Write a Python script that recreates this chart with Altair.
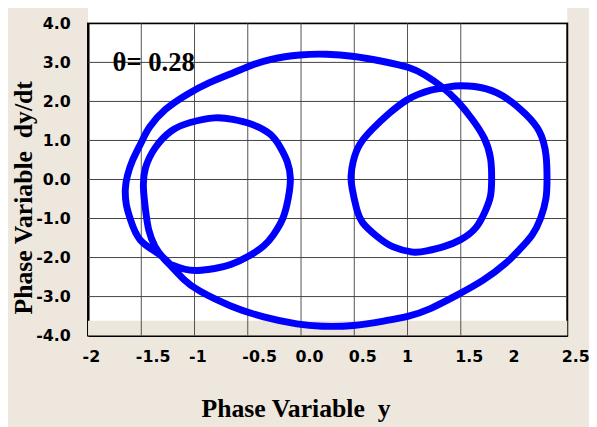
import altair as alt
import pandas as pd

# Phase trajectory (y, dy/dt), in drawing order
traj_y = [-1.23, -1.34, -1.51, -1.60, -1.64, -1.65, -1.63, -1.58, -1.50, -1.42,
          -1.27, -1.07, -0.86, -0.64, -0.47, -0.28, -0.01, 0.24, 0.50, 0.76,
          1.01, 1.16, 1.32, 1.47, 1.60, 1.72, 1.78, 1.79, 1.78, 1.73,
          1.64, 1.50, 1.34, 1.18, 1.05, 0.86, 0.71, 0.58, 0.52, 0.48,
          0.47, 0.49, 0.55, 0.67, 0.83, 0.99, 1.10, 1.22, 1.36, 1.51,
          1.74, 1.94, 2.11, 2.24, 2.30, 2.31, 2.30, 2.25, 2.17, 2.05,
          1.92, 1.71, 1.46, 1.22, 1.01, 0.79, 0.49, 0.20, -0.04, -0.35,
          -0.66, -0.95, -1.10, -1.21, -1.29, -1.37, -1.43, -1.46, -1.48, -1.46,
          -1.37, -1.22, -1.04, -0.81, -0.64, -0.47, -0.29, -0.19, -0.13, -0.10,
          -0.12, -0.17, -0.26, -0.35, -0.49, -0.66, -0.81, -0.97, -1.09, -1.23]
traj_dy = [-2.17, -1.90, -1.55, -1.04, -0.65, -0.25, 0.10, 0.50, 0.95, 1.35,
           1.80, 2.18, 2.48, 2.73, 2.92, 3.08, 3.19, 3.21, 3.15, 3.03,
           2.87, 2.68, 2.38, 2.00, 1.57, 1.06, 0.53, 0.03, -0.41, -0.81,
           -1.24, -1.54, -1.72, -1.83, -1.86, -1.72, -1.45, -1.11, -0.73, -0.23,
           0.10, 0.46, 0.89, 1.29, 1.70, 2.03, 2.18, 2.29, 2.36, 2.40,
           2.32, 2.06, 1.67, 1.22, 0.63, 0.03, -0.48, -0.99, -1.42, -1.80,
           -2.15, -2.58, -2.97, -3.30, -3.50, -3.62, -3.74, -3.76, -3.70, -3.52,
           -3.24, -2.86, -2.56, -2.25, -2.02, -1.72, -1.29, -0.78, -0.20, 0.30,
           0.81, 1.24, 1.46, 1.58, 1.54, 1.42, 1.16, 0.80, 0.46, 0.03,
           -0.48, -0.99, -1.42, -1.70, -1.96, -2.18, -2.28, -2.33, -2.30, -2.17]

x_ticks = [-2, -1.5, -1, -0.5, 0, 0.5, 1, 1.5, 2, 2.5]
x_tick_labels = ["-2", "-1.5", "-1", "-0.5", "0.0", "0.5", "1", "1.5", "2", "2.5"]
y_ticks = [4, 3, 2, 1, 0, -1, -2, -3, -4]
y_tick_labels = ["4.0", "3.0", "2.0", "1.0", "0.0", "-1.0", "-2.0", "-3.0", "-4.0"]

grid_x = [-1.5, -1, -0.5, 0, 0.5, 1, 1.5]
grid_y = [3, 2, 1, 0, -1, -2, -3]

# background panels: beige strip at the bottom of the plot, white strip above it
band_x = [-2.0, 2.5]
band_y = [-4.0, -3.62]
top_y = [4.03, 4.4]

label_text = ["\u03b8= 0.28"]
label_x = [-1.77]
label_y = [2.99]

x_title = "Phase Variable \u00a0y"
y_title = "Phase Variable \u00a0dy/dt"


def label_expr(vals, labels):
    return "".join(
        f"abs(datum.value - ({v})) < 0.001 ? '{l}' : " for v, l in zip(vals, labels)
    ) + "''"


xs = alt.Scale(domain=[-2, 2.5], nice=False, zero=False)
ys = alt.Scale(domain=[-4, 4], nice=False, zero=False)

df = pd.DataFrame({"y": traj_y, "dy": traj_dy, "order": list(range(len(traj_y)))})

x_axis = alt.Axis(
    values=x_ticks, labelExpr=label_expr(x_ticks, x_tick_labels),
    grid=False, ticks=False, domain=True, domainColor="black", domainWidth=2,
    labelFont="DejaVu Sans", labelFontWeight="bold", labelFontSize=16,
    labelColor="black", labelAlign="left", labelOffset=-6, labelPadding=13,
    labelFlush=False, labelOverlap=False, labelBound=False,
    title=x_title, titleFont="Liberation Serif", titleFontWeight="bold",
    titleFontSize=26, titleColor="black", titleX=210, titleY=82,
    titleAlign="center", titleBaseline="alphabetic", titleAnchor="middle",
)
y_axis = alt.Axis(
    values=y_ticks, labelExpr=label_expr(y_ticks, y_tick_labels),
    grid=False, ticks=False, domain=True, domainColor="black", domainWidth=2,
    labelFont="DejaVu Sans", labelFontWeight="bold", labelFontSize=16,
    labelColor="black", labelPadding=18, labelBaseline="middle",
    labelFlush=False, labelOverlap=False, labelBound=False,
    title=y_title, titleFont="Liberation Serif", titleFontWeight="bold",
    titleFontSize=26, titleColor="black", titleX=-57, titleY=176, titleAngle=270,
    titleAlign="center", titleBaseline="alphabetic",
)

panels = pd.DataFrame({
    "x": [band_x[0], band_x[0]], "x2": [band_x[1], band_x[1]],
    "y": [band_y[0], top_y[0]], "y2": [band_y[1], top_y[1]],
    "fill": ["#ece6dc", "#ffffff"],
})
band = alt.Chart(panels).mark_rect().encode(
    x=alt.X("x:Q", scale=xs, axis=x_axis), x2="x2:Q",
    y=alt.Y("y:Q", scale=ys, axis=y_axis), y2="y2:Q",
    color=alt.Color("fill:N", scale=None, legend=None))

vgrid = alt.Chart(pd.DataFrame({"g": grid_x})).mark_rule(
    color="#505050", strokeWidth=1).encode(x=alt.X("g:Q", scale=xs, axis=x_axis))
hgrid = alt.Chart(pd.DataFrame({"g": grid_y})).mark_rule(
    color="#404040", strokeWidth=1).encode(y=alt.Y("g:Q", scale=ys, axis=y_axis))

curve = alt.Chart(df).mark_line(
    color="#0000ff", strokeWidth=7, interpolate="natural",
    strokeCap="round", strokeJoin="round").encode(
    x=alt.X("y:Q", scale=xs, axis=x_axis), y=alt.Y("dy:Q", scale=ys, axis=y_axis),
    order="order:Q")

label = alt.Chart(pd.DataFrame({"x": label_x, "y": label_y, "t": label_text})).mark_text(
    align="left", baseline="middle", font="Liberation Serif", fontWeight="bold",
    fontSize=27, color="black").encode(
    x=alt.X("x:Q", scale=xs, axis=x_axis), y=alt.Y("y:Q", scale=ys, axis=y_axis),
    text="t:N")

chart = alt.layer(band, vgrid, hgrid, curve, label).properties(
    width=485, height=316,
    autosize=alt.AutoSizeParams(type="none"),
    padding={"left": 81, "top": 13, "right": 22, "bottom": 96},
    background="#ede7dd",
).configure_view(fill="white", stroke="black", strokeWidth=2)

chart.save("out.html", embed_options={"renderer": "svg", "actions": False})
